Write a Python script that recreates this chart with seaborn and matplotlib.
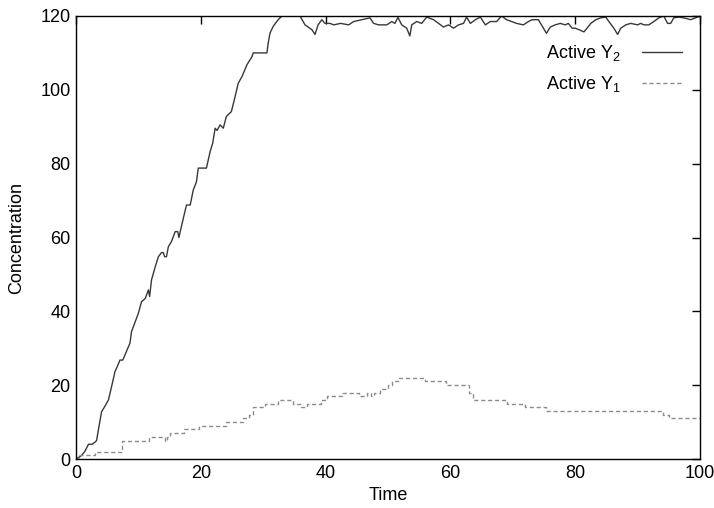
import matplotlib
matplotlib.use("Agg")
import matplotlib.pyplot as plt
import seaborn as sns
import pandas as pd

# ---- data ----
y2_time = [0.0, 0.5, 0.9, 1.4, 2.0, 2.6, 3.0, 3.3, 3.7, 4.1, 4.6, 5.2, 5.7, 6.25, 6.6,
           7.05, 7.5, 7.85, 8.3, 8.65, 8.9, 9.5, 10.0, 10.5, 11.1, 11.6, 11.8, 12.1,
           12.7, 13.2, 13.7, 14.0, 14.2, 14.5, 14.8, 15.3, 15.9, 16.3, 16.5, 16.7,
           17.2, 17.7, 18.3, 18.8, 19.3, 19.6, 20.9, 21.5, 21.9, 22.3, 22.6, 23.1,
           23.6, 24.1, 24.9, 25.5, 26.0, 26.6, 27.4, 28.2, 28.4, 30.6, 30.8, 31.1,
           31.6, 32.4, 33.0, 35.9, 36.7, 37.8, 38.3, 38.8, 39.4, 39.9, 40.7, 41.3,
           42.4, 43.7, 44.5, 45.8, 47.1, 47.7, 48.5, 49.8, 50.6, 51.1, 51.6, 52.2,
           53.0, 53.5, 53.8, 54.6, 55.4, 56.2, 57.3, 58.1, 58.9, 59.7, 60.5, 61.3,
           62.1, 62.6, 63.2, 64.0, 64.8, 65.6, 66.4, 67.4, 68.2, 69.0, 69.8, 70.6,
           71.7, 72.5, 73.1, 74.1, 74.9, 75.4, 76.0, 76.8, 77.6, 78.4, 78.9, 79.5,
           80.0, 80.6, 81.4, 81.9, 82.5, 83.3, 84.1, 84.9, 85.4, 86.2, 86.8, 87.3,
           88.1, 88.9, 90.0, 90.5, 91.0, 91.8, 92.6, 93.4, 94.2, 94.8, 95.3, 95.8,
           96.6, 97.4, 98.5, 99.3, 100.0]
y2_conc = [0, 0.5, 1, 2, 4, 4, 4.5, 5, 9, 12.8, 14.2, 16, 19.6, 23.7, 25,
           26.8, 26.8, 28.2, 30, 31.4, 34.5, 37.2, 39.5, 42.6, 43.5, 45.8, 44, 48.5,
           52.1, 54.8, 55.9, 55.9, 54.8, 54.8, 57.5, 58.9, 61.6, 61.6, 60, 61.6,
           65.2, 68.8, 68.8, 72.9, 75.1, 78.8, 78.8, 83.3, 85.5, 89.6, 89.0, 90.5,
           89.6, 92.8, 94.1, 98.2, 101.8, 103.6, 106.8, 109, 110, 110, 112.7, 115.4,
           117.2, 119, 120, 120, 117.6, 116.3, 115, 117.6, 119, 118, 118, 117.6,
           118, 117.6, 118.5, 119, 119.5, 118, 117.6, 117.6, 118.5, 118, 119.6, 117.6,
           116.7, 114.6, 117.6, 118.5, 118, 119.7, 119, 118, 117, 117.6, 116.7, 117.6,
           118, 119.7, 118, 119, 119.7, 117.6, 118.5, 118.5, 120, 119, 118.5, 118,
           117.6, 118.5, 119, 119, 116.7, 115.3, 117, 117.6, 118, 117.6, 118, 116.7,
           116.7, 116.3, 115.7, 116.7, 118, 119, 119.5, 119.7, 118.5, 116.7, 115, 116.7,
           117.6, 118, 117.6, 118, 117.6, 117.6, 118.5, 119.5, 120, 118, 118, 119.5,
           119.7, 119.5, 119, 119.5, 120]

y1_time = [0, 0.5, 3.0, 7.3, 11.7, 14.2, 14.6, 15.0, 17.3, 19.7, 24.0, 26.7, 27.7,
           28.3, 30.3, 32.3, 34.7, 36.0, 37.0, 39.3, 40.3, 42.7, 45.3, 46.7, 47.3,
           47.7, 48.7, 50.0, 50.7, 51.7, 56.0, 59.3, 63.0, 63.7, 69.0, 72.0, 75.3,
           94.0, 95.0, 100.0]
y1_conc = [0, 1, 2, 5, 6, 5, 6, 7, 8, 9, 10, 11, 12,
           14, 15, 16, 15, 14, 15, 16, 17, 18, 17, 18, 17,
           18, 19, 20, 21, 22, 21, 20, 18, 16, 15, 14, 13,
           12, 11, 11]

x_ticks = [0, 20, 40, 60, 80, 100]
y_ticks = [0, 20, 40, 60, 80, 100, 120]
label_y2 = "Active Y$_2$"
label_y1 = "Active Y$_1$"

# ---- styling ----
sns.set_theme(style="white")
plt.rcParams["font.family"] = ["Liberation Sans", "DejaVu Sans"]
plt.rcParams["mathtext.fontset"] = "custom"
plt.rcParams["mathtext.rm"] = "Liberation Sans"
plt.rcParams["mathtext.it"] = "Liberation Sans:italic"
plt.rcParams["mathtext.bf"] = "Liberation Sans:bold"
plt.rcParams["text.color"] = "black"
plt.rcParams["axes.labelcolor"] = "black"

fig = plt.figure(figsize=(7.14, 5.08), dpi=100)
ax = fig.add_axes([76 / 714, 1 - 459 / 508, 624 / 714, 443 / 508])

df2 = pd.DataFrame({"Time": y2_time, "Concentration": y2_conc})
df1 = pd.DataFrame({"Time": y1_time, "Concentration": y1_conc})

sns.lineplot(data=df2, x="Time", y="Concentration", ax=ax, sort=False,
             estimator=None, color="#383838", linewidth=1.0, label=label_y2)
sns.lineplot(data=df1, x="Time", y="Concentration", ax=ax, sort=False,
             estimator=None, color="#8c8c8c", linewidth=1.0,
             drawstyle="steps-post", dashes=False, label=label_y1)
ax.lines[1].set_linestyle((0, (3, 2)))

ax.set_xlim(0, 100)
ax.set_ylim(0, 120)
ax.set_xticks(x_ticks)
ax.set_yticks(y_ticks)
ax.tick_params(axis="both", which="both", direction="in", length=6, width=1,
               top=True, right=True, labelsize=13, colors="black", pad=4)
for s in ax.spines.values():
    s.set_visible(True)
    s.set_color("black")
    s.set_linewidth(1.0)
ax.set_xlabel("Time", fontsize=13, labelpad=4, color="black")
ax.set_ylabel("Concentration", fontsize=13, labelpad=10.5, color="black")

handles, labels = ax.get_legend_handles_labels()
handles[1].set_linestyle((0, (3, 2)))
leg = ax.legend(handles, labels, loc="upper right", frameon=False,
                markerfirst=False, fontsize=13, handlelength=2.2,
                handletextpad=1.2, borderaxespad=0.0,
                bbox_to_anchor=(0.982, 0.955), labelspacing=0.6)
for t in leg.get_texts():
    t.set_color("black")

fig.savefig("out.png", dpi=100)
